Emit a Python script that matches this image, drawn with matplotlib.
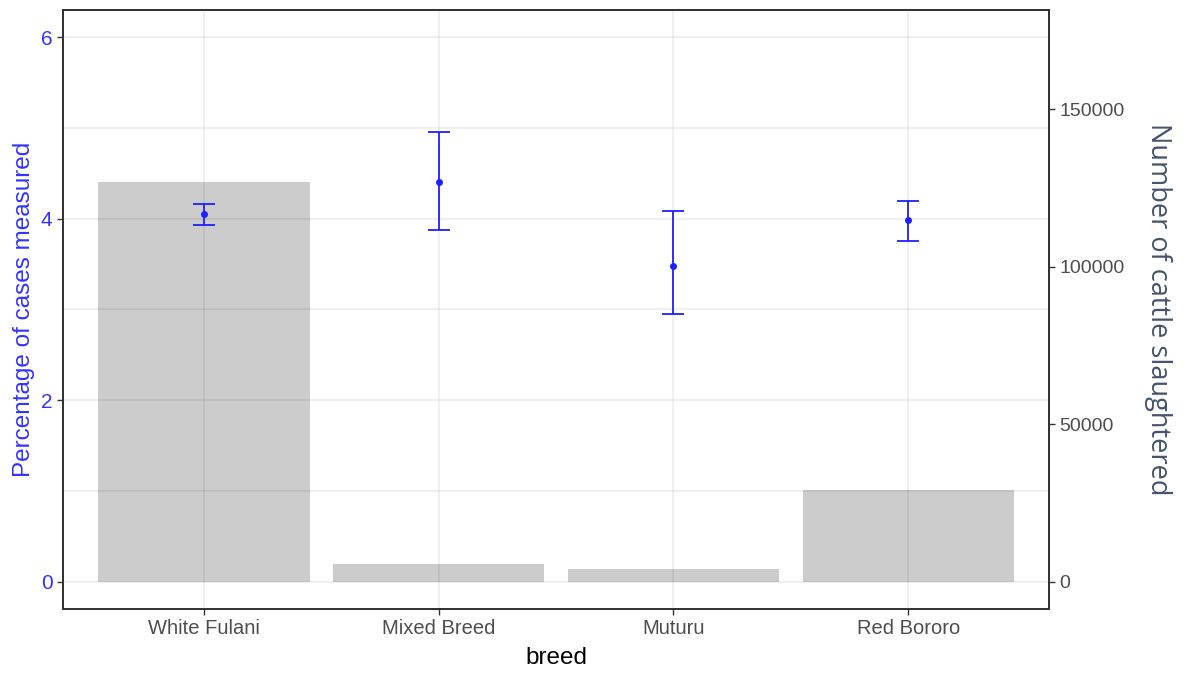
import numpy as np
import matplotlib
matplotlib.use('Agg')
import matplotlib.pyplot as plt
from matplotlib.ticker import MultipleLocator

plt.rcParams['font.family'] = ['Liberation Sans', 'DejaVu Sans']

# data
breeds = ['White Fulani', 'Mixed Breed', 'Muturu', 'Red Bororo']
slaughtered = [126800, 5700, 4100, 29200]
pct_mean = [4.05, 4.41, 3.48, 3.99]
pct_low = [3.93, 3.88, 2.95, 3.76]
pct_high = [4.16, 4.96, 4.09, 4.20]

# secondary axis scale: cattle per percentage unit
scale = 28800

fig = plt.figure(figsize=(11.89, 6.73), dpi=100)
ax2 = fig.add_axes([63/1189, 64/673, 986/1189, 599/673])
ax = ax2.twinx()
# percentages on top, cattle bars underneath
ax.set_zorder(ax2.get_zorder() + 1)
ax.patch.set_visible(False)

x = np.arange(len(breeds))
ax2.bar(x, slaughtered, width=0.9, color='#cccccc', zorder=1)

mean = np.array(pct_mean)
yerr = [mean - np.array(pct_low), np.array(pct_high) - mean]
ax.errorbar(x, mean, yerr=yerr, fmt='o', color='#1f1fff', ecolor='#1f1fff',
            markersize=4, elinewidth=1.3, capsize=8, capthick=1.3, zorder=3)

# left axis (percent) is shown on the left side, cattle on the right
ax.yaxis.tick_left()
ax.yaxis.set_label_position('left')
ax2.yaxis.tick_right()
ax2.yaxis.set_label_position('right')

ax.set_xlim(-0.6, 3.6)
ax.set_ylim(-0.3, 6.3)
ax2.set_ylim(-0.3 * scale, 6.3 * scale)

ax.yaxis.set_major_locator(MultipleLocator(2))
ax.yaxis.set_minor_locator(MultipleLocator(1))
ax2.yaxis.set_major_locator(MultipleLocator(50000))

# grid drawn translucent so it darkens over the bars
ax.grid(True, which='both', axis='y', color='black', alpha=0.08, linewidth=1.1, zorder=0)
for xi in x:
    ax.axvline(xi, color='black', alpha=0.08, linewidth=1.1, zorder=0)
ax.tick_params(axis='y', which='minor', length=0)

ax2.set_xticks(x)
ax2.set_xticklabels(breeds)

ax.tick_params(axis='y', colors='#3333ff', labelsize=15, length=4, width=1, direction='out')
ax.tick_params(axis='y', which='major', color='#333333')
ax2.tick_params(axis='y', labelsize=14, labelcolor='#4d4d4d', color='#333333', length=4, width=1)
ax2.tick_params(axis='x', labelsize=14.5, labelcolor='#4d4d4d', color='#333333', length=4, width=1)

for a in (ax, ax2):
    for s in a.spines.values():
        s.set_color('#333333')
        s.set_linewidth(1.3)

ax.set_ylabel('Percentage of cases measured', color='#3333ff', fontsize=17.5, labelpad=4)
ax2.set_xlabel('breed', fontsize=17.5, color='black', labelpad=6)
ax2.set_ylabel('Number of cattle slaughtered', color='#44546a', fontsize=19.5,
               family=['Open Sans', 'DejaVu Sans'],
               rotation=-90, labelpad=34)

fig.savefig('out.png', dpi=100, facecolor='white')
